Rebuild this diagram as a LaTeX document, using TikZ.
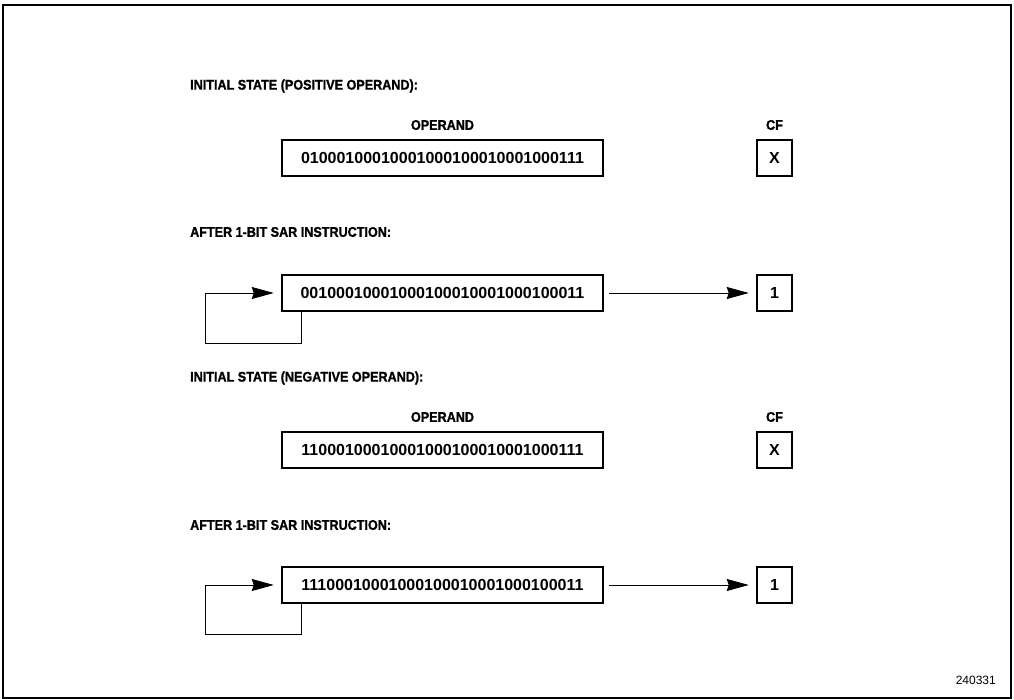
\documentclass[tikz,border=0pt]{standalone}
\usepackage{fontspec}
\setmainfont{Liberation Sans}
\newfontfamily\heavy[FakeBold=1.2,FakeStretch=0.9]{Liberation Sans}
\usetikzlibrary{arrows.meta}
\tikzset{
  title/.style={anchor=west,font=\fontsize{14}{16}\selectfont\bfseries\heavy,inner sep=0pt},
  head/.style={font=\fontsize{14}{16}\selectfont\bfseries\heavy,inner sep=0pt},
  opbox/.style={draw,line width=2.5pt,minimum width=321pt,minimum height=36pt,inner sep=0pt,font=\fontsize{16}{18}\selectfont\bfseries},
  cfbox/.style={draw,line width=2.5pt,minimum width=35pt,minimum height=36pt,inner sep=0pt,font=\fontsize{16}{18}\selectfont\bfseries},
  arr/.style={line width=0.9pt,-{Stealth[length=22pt,width=12pt,inset=2pt]},shorten >=7pt},
}
\begin{document}
\begin{tikzpicture}[x=1pt,y=-1pt]
\useasboundingbox (0,0) rectangle (1014,700);
\draw[line width=2.8pt] (3,5) rectangle (1011,698);

% positive operand
\node[title] (t1) at (190,86) {INITIAL STATE (POSITIVE OPERAND):};
\node[head] (o1) at (442.5,125) {OPERAND};
\node[head] (f1) at (774.5,125) {CF};
\node[opbox] (b1) at (442.5,158) {01000100010001000100010001000111};
\node[cfbox] (c1) at (774.5,158) {X};

\node[title] (t2) at (190,232) {AFTER 1-BIT SAR INSTRUCTION:};
\node[opbox] (b2) at (442.5,293) {00100010001000100010001000100011};
\node[cfbox] (c2) at (774.5,293) {1};
\draw[arr,shorten <=5pt] (b2.east) -- (c2.west);
\coordinate (l2) at (205,293);
\draw[arr] ([xshift=21pt]b2.south west) -- ++(0,31) -| (l2) -- (b2.west);

% negative operand
\node[title] (t3) at (190,378) {INITIAL STATE (NEGATIVE OPERAND):};
\node[head] (o3) at (442.5,417) {OPERAND};
\node[head] (f3) at (774.5,417) {CF};
\node[opbox] (b3) at (442.5,450) {11000100010001000100010001000111};
\node[cfbox] (c3) at (774.5,450) {X};

\node[title] (t4) at (190,525) {AFTER 1-BIT SAR INSTRUCTION:};
\node[opbox] (b4) at (442.5,585) {11100010001000100010001000100011};
\node[cfbox] (c4) at (774.5,585) {1};
\draw[arr,shorten <=5pt] (b4.east) -- (c4.west);
\coordinate (l4) at (205,585);
\draw[arr] ([xshift=21pt]b4.south west) -- ++(0,30) -| (l4) -- (b4.west);

\node[font=\fontsize{12}{14}\selectfont,anchor=east,inner sep=0pt] (id) at (996,680) {240331};
\end{tikzpicture}
\end{document}
